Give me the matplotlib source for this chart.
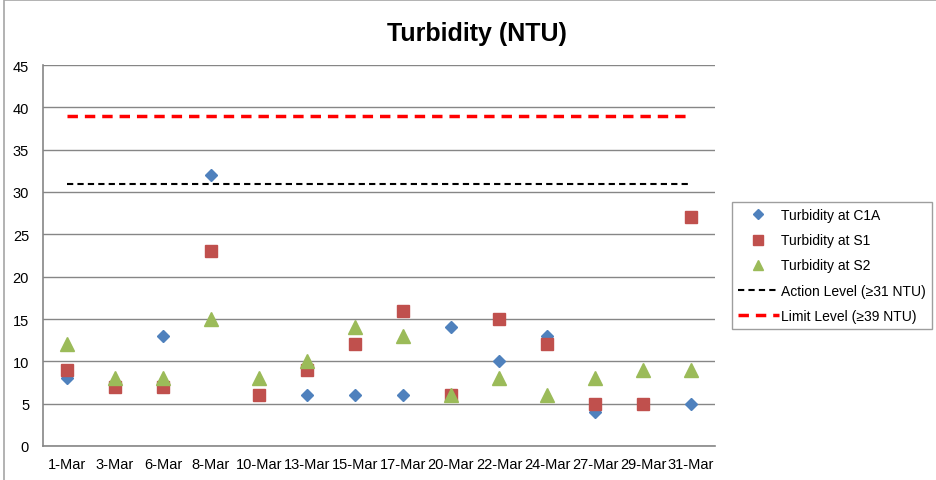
import matplotlib
matplotlib.use("Agg")
import matplotlib.pyplot as plt
import numpy as np
from matplotlib.patches import Rectangle

plt.rcParams['font.family'] = ['Liberation Sans', 'DejaVu Sans']

dates = ["1-Mar", "3-Mar", "6-Mar", "8-Mar", "10-Mar", "13-Mar", "15-Mar",
         "17-Mar", "20-Mar", "22-Mar", "24-Mar", "27-Mar", "29-Mar", "31-Mar"]
c1a = [8, np.nan, 13, 32, np.nan, 6, 6, 6, 14, 10, 13, 4, np.nan, 5]
s1 = [9, 7, 7, 23, 6, 9, 12, 16, 6, 15, 12, 5, 5, 27]
s2 = [12, 8, 8, 15, 8, 10, 14, 13, 6, 8, 6, 8, 9, 9]
action_level = 31
limit_level = 39

fig = plt.figure(figsize=(9.37, 4.81), dpi=100)
fig.patches.append(Rectangle((4/937, -0.01), 1.0, 1.0 - 1/481 + 0.01, transform=fig.transFigure,
                             fill=False, edgecolor='#A6A6A6', linewidth=1.2))
ax = fig.add_axes([43/937, 1 - 447/481, (715 - 43)/937, (447 - 66)/481])

x = np.arange(len(dates))
ax.plot(x, [action_level] * len(x), color='black', linestyle=(0, (3, 2)), linewidth=1.5,
        label='Action Level (≥31 NTU)', zorder=3)
ax.plot(x, [limit_level] * len(x), color='#FF0000', linestyle=(0, (3, 2)), linewidth=2.5,
        label='Limit Level (≥39 NTU)', zorder=3)
ax.plot(x, c1a, linestyle='none', marker='D', markersize=6.5, color='#4F81BD',
        label='Turbidity at C1A', zorder=4)
ax.plot(x, s1, linestyle='none', marker='s', markersize=8.5, color='#C0504D',
        label='Turbidity at S1', zorder=5)
ax.plot(x, s2, linestyle='none', marker='^', markersize=9.5, color='#9BBB59',
        label='Turbidity at S2', zorder=6)

ax.set_xlim(-0.5, len(dates) - 0.5)
ax.set_ylim(0, 45)
ax.set_yticks(np.arange(0, 46, 5))
ax.set_xticks(x)
ax.set_xticklabels(dates, fontsize=10.5)
ax.tick_params(axis='y', labelsize=10.5, length=0, pad=10)
ax.tick_params(axis='x', length=0, pad=8)
ax.yaxis.grid(True, color='#868686', linewidth=1)
ax.set_axisbelow(True)
for s in ['top', 'right']:
    ax.spines[s].set_visible(False)
for s in ['left', 'bottom']:
    ax.spines[s].set_color('#868686')
    ax.spines[s].set_linewidth(1.2)

fig.text(477/937, 1 - 34/481, 'Turbidity (NTU)', ha='center', va='center',
         fontsize=18, fontweight='bold')

handles, labels = ax.get_legend_handles_labels()
order = [2, 3, 4, 0, 1]
leg = fig.legend([handles[i] for i in order], [labels[i] for i in order],
                 loc='upper left', bbox_to_anchor=(732/937, 1 - 203/481),
                 fontsize=10, frameon=True, fancybox=False, edgecolor='#868686',
                 handlelength=2.9, borderaxespad=0, labelspacing=0.8,
                 handletextpad=0.15, markerscale=0.8, borderpad=0.45)
leg.get_frame().set_linewidth(1)

fig.savefig('out.png', dpi=100)
